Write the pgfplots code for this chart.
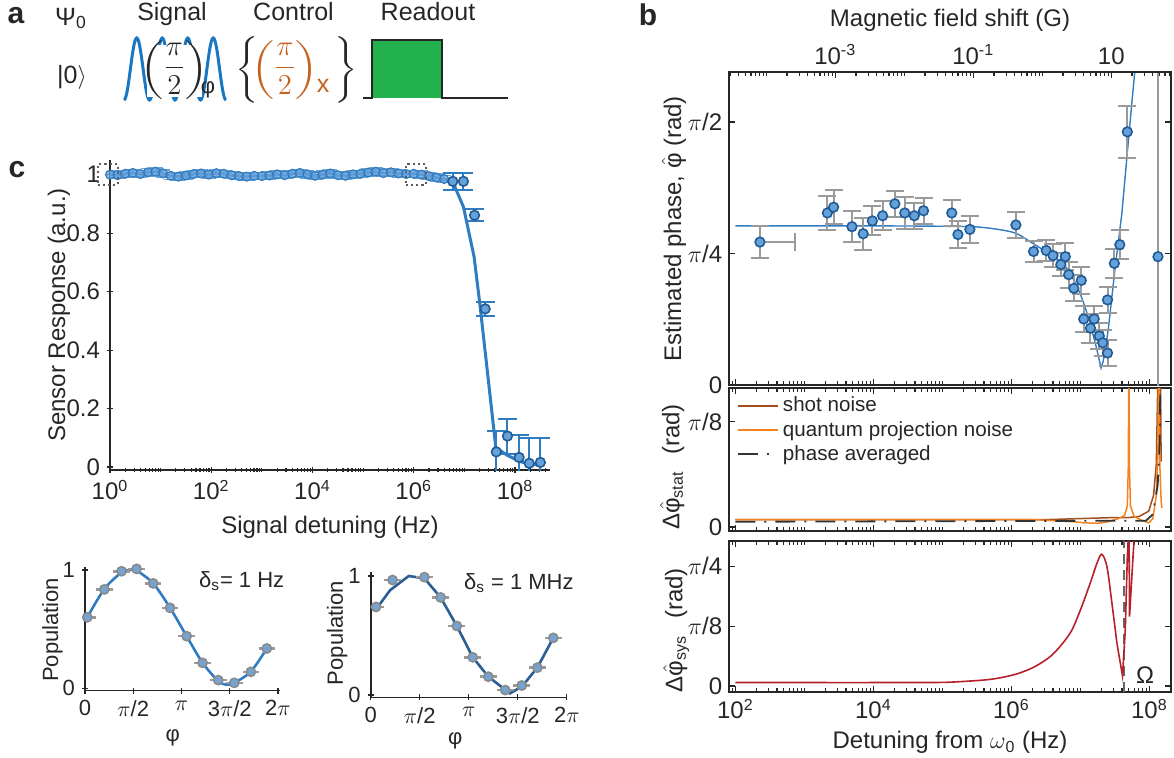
\documentclass[border=0pt]{standalone}
\usepackage{pgfplots}
\pgfplotsset{compat=1.18}
\usepackage{pgfplotstable}
\usepackage{amsmath}
\usepackage{graphicx}
\usepackage{fontspec}
\setmainfont{Liberation Sans}
\setsansfont{Liberation Sans}

\definecolor{txt}{HTML}{262626}
\definecolor{mfill}{HTML}{67A1D9}
\definecolor{medge}{HTML}{1F5B96}
\definecolor{cblue}{HTML}{2F7CC2}
\definecolor{dblue}{HTML}{2A5E94}
\definecolor{ebgray}{HTML}{9A9A9A}
\definecolor{shot}{HTML}{A24F1E}
\definecolor{qpn}{HTML}{F58220}
\definecolor{avg}{HTML}{333333}
\definecolor{sysred}{HTML}{B5202B}
\definecolor{rdgreen}{HTML}{22B14C}
\definecolor{ctrl}{HTML}{C5611E}
\definecolor{sigblue}{HTML}{1A78C2}
\definecolor{pfill}{HTML}{76A3D1}
\definecolor{pedge}{HTML}{8A8A8A}

\pgfplotsset{
  pnl/.style={
    scale only axis, anchor=north west, clip mode=individual,
    axis line style={line width=0.8pt, draw=txt, -},
    tick style={line width=0.6pt, draw=txt},
    tick align=inside,
    major tick length=3pt, minor tick length=1.8pt,
    tick label style={font=\fontsize{12}{14}\selectfont, text=txt},
    label style={font=\fontsize{12}{14}\selectfont, text=txt},
  },
  noarrows/.style={
    every outer x axis line/.append style={-},
    every outer y axis line/.append style={-},
    every inner x axis line/.append style={-},
    every inner y axis line/.append style={-},
    x axis line style={-}, y axis line style={-},
  },
  % MATLAB-like minor ticks for the detuning axes
  detminor/.style={minor xtick={2e0,3e0,4e0,5e0,6e0,7e0,8e0,9e0,1e1,
    2e1,3e1,4e1,5e1,6e1,7e1,8e1,9e1,
    2e2,3e2,4e2,5e2,6e2,7e2,8e2,9e2,1e3,
    2e3,3e3,4e3,5e3,6e3,7e3,8e3,9e3,
    2e4,3e4,4e4,5e4,6e4,7e4,8e4,9e4,1e5,
    2e5,3e5,4e5,5e5,6e5,7e5,8e5,9e5,
    2e6,3e6,4e6,5e6,6e6,7e6,8e6,9e6,1e7,
    2e7,3e7,4e7,5e7,6e7,7e7,8e7,9e7,
    2e8,3e8,4e8}},
  fieldminor/.style={minor xtick={3e-5,4e-5,5e-5,6e-5,7e-5,8e-5,9e-5,1e-4,
    2e-4,3e-4,4e-4,5e-4,6e-4,7e-4,8e-4,9e-4,
    2e-3,3e-3,4e-3,5e-3,6e-3,7e-3,8e-3,9e-3,1e-2,
    2e-2,3e-2,4e-2,5e-2,6e-2,7e-2,8e-2,9e-2,
    2e-1,3e-1,4e-1,5e-1,6e-1,7e-1,8e-1,9e-1,1,
    2,3,4,5,6,7,8,9,20,30,40,50,60,70}},
  bmark/.style={only marks, mark=*, mark size=2.4pt,
    mark options={fill=mfill, draw=medge, line width=0.8pt}},
}

% ---- panel c, main: sensor response (lx = log10 of detuning)
\pgfplotstableread{
lx y
0.00 1.000
0.15 0.998
0.30 1.003
0.45 1.006
0.60 1.002
0.75 1.008
0.90 1.010
1.05 1.004
1.20 0.996
1.35 0.993
1.50 0.997
1.65 1.002
1.80 1.004
1.95 1.000
2.10 1.005
2.25 1.003
2.40 0.998
2.55 0.995
2.70 0.993
2.85 0.996
3.00 0.995
3.15 0.997
3.30 1.001
3.45 0.998
3.60 1.003
3.75 1.006
3.90 1.001
4.05 0.996
4.20 1.000
4.35 1.004
4.50 0.998
4.65 0.996
4.80 1.001
4.95 1.003
5.10 1.007
5.25 1.010
5.40 1.005
5.55 1.008
5.70 1.004
5.85 1.002
6.00 1.003
6.15 1.000
6.30 0.995
6.45 0.990
6.60 0.985
}\cdense

\pgfplotstableread{
lx y e
6.77 0.977 0.030
6.98 0.977 0.030
7.20 0.861 0.020
7.41 0.541 0.024
7.63 0.052 0.070
7.85 0.106 0.060
8.08 0.033 0.077
8.28 0.013 0.087
8.50 0.016 0.084
}\ctail

\pgfplotstableread{
lx y
6.60 0.985
6.77 0.975
6.98 0.890
7.19 0.720
7.31 0.550
7.58 0.130
7.63 0.050
7.72 0.055
7.85 0.040
8.08 0.020
8.28 0.010
8.50 0.007
}\cfit

% ---- panel c, small: population vs phase
\pgfplotstableread{
x y
0.075 0.600
0.63 0.836
1.19 0.990
1.68 1.010
2.22 0.887
2.77 0.680
3.31 0.440
3.83 0.214
4.34 0.068
4.86 0.045
5.40 0.138
5.92 0.336
}\popA

\pgfplotstableread{
x y
0.075 0.60
0.63 0.84
1.19 0.98
1.45 1.00
1.68 0.995
2.22 0.887
2.77 0.68
3.31 0.44
3.83 0.214
4.34 0.06
4.60 0.03
4.86 0.045
5.40 0.14
5.92 0.336
}\fitA

\pgfplotstableread{
x y
0.17 0.740
0.70 0.966
1.72 0.990
2.24 0.820
2.76 0.580
3.27 0.317
3.77 0.154
4.31 0.042
4.84 0.080
5.34 0.230
5.85 0.480
}\popB

\pgfplotstableread{
x y
0.17 0.72
0.62 0.88
1.22 1.00
1.72 0.98
2.24 0.82
2.76 0.58
3.27 0.317
3.77 0.154
4.46 0.014
4.84 0.07
5.34 0.23
5.85 0.48
}\fitB

% ---- panel b, top: estimated phase in units of pi/4
\pgfplotstableread{
lx v e
3.333 1.308 0.13
3.423 1.352 0.13
3.689 1.204 0.12
3.852 1.150 0.12
3.985 1.248 0.11
4.133 1.287 0.11
4.311 1.378 0.10
4.454 1.308 0.12
4.593 1.287 0.10
4.726 1.325 0.10
5.135 1.308 0.10
5.225 1.144 0.10
5.398 1.183 0.10
6.065 1.217 0.10
6.321 1.015 0.08
6.504 1.023 0.08
6.603 0.984 0.09
6.781 0.976 0.10
6.716 0.916 0.09
6.830 0.839 0.10
7.013 0.795 0.10
6.905 0.735 0.10
7.048 0.502 0.10
7.146 0.432 0.11
7.200 0.502 0.10
7.274 0.373 0.10
7.324 0.321 0.10
7.393 0.243 0.10
7.393 0.647 0.10
7.492 0.925 0.11
7.571 1.067 0.11
7.680 1.925 0.20
}\bphase

% fit, smooth part and the sharp dip
\pgfplotstableread{
lx v
2.00 1.21
3.00 1.21
4.00 1.21
5.00 1.207
5.55 1.20
6.03 1.16
6.27 1.09
6.51 1.01
6.755 0.92
6.95 0.75
7.094 0.55
7.215 0.32
7.26 0.22
}\bfitA
\pgfplotstableread{
lx v
7.26 0.22
7.30 0.13
7.33 0.18
7.37 0.30
7.41 0.45
7.505 0.90
7.60 1.30
7.67 1.71
7.75 2.17
7.80 2.45
}\bfitB

% ---- panel b, middle: statistical error in units of pi/8
\pgfplotstableread{
lx v
2.00 0.07
6.50 0.07
7.00 0.08
7.50 0.09
7.70 0.09
7.85 0.10
7.99 0.15
8.06 0.30
8.10 0.60
8.125 1.50
8.16 1.50
8.17 0.62
}\shotn

\pgfplotstableread{
lx v
2.00 0.07
6.30 0.07
6.60 0.06
6.90 0.05
7.05 0.04
7.25 0.035
7.40 0.05
7.55 0.08
7.64 0.11
7.68 0.20
7.695 0.60
7.70 1.50
7.705 1.50
7.71 0.60
7.725 0.20
7.78 0.10
7.90 0.06
7.99 0.04
8.05 0.08
8.10 0.30
8.125 0.80
8.133 1.50
8.14 1.50
8.15 0.60
8.17 0.25
8.18 0.18
}\qpnn

\pgfplotstableread{
lx v
2.00 0.05
7.95 0.06
8.05 0.12
8.12 0.40
8.15 0.80
8.16 1.50
}\avgn

% ---- panel b, bottom: systematic error in units of pi/8
\pgfplotstableread{
lx v
2.00 0.058
3.00 0.058
4.00 0.058
4.50 0.059
5.06 0.062
5.60 0.10
5.85 0.14
6.10 0.21
6.35 0.33
6.60 0.53
6.85 0.88
7.00 1.27
7.14 1.71
7.24 2.05
7.31 2.20
7.385 1.99
7.457 1.38
7.53 0.71
}\sysA
\pgfplotstableread{
lx v
7.53 0.71
7.61 0.17
7.65 0.93
7.68 2.15
7.70 2.60
7.705 2.60
7.712 1.16
7.785 2.60
}\sysB

\begin{document}
\begin{tikzpicture}[font=\fontsize{12}{14}\selectfont, text=txt]
\useasboundingbox (0,0) rectangle (587pt,-378.5pt);

% ================= panel c, main
\begin{axis}[pnl, xmode=log, detminor,
  at={(55pt,-80pt)}, width=220pt, height=155pt,
  axis lines=left, noarrows,
  xmin=1, xmax=4.9e8, ymin=-0.01, ymax=1.05,
  xtick={1,1e2,1e4,1e6,1e8},
  xticklabels={10\textsuperscript{0},10\textsuperscript{2},10\textsuperscript{4},10\textsuperscript{6},10\textsuperscript{8}},
  ytick={0,0.2,0.4,0.6,0.8,1},
  yticklabels={0,0.2,0.4,0.6,0.8,1},
  xlabel={Signal detuning (Hz)},
  ylabel={Sensor Response (a.u.)},
  xlabel style={at={(axis description cs:0.5,-0.206)}, anchor=base},
  ylabel style={at={(axis description cs:-0.102,0.5)}, anchor=base},
]
\addplot[cblue, line width=1.5pt] table[x expr=10^\thisrow{lx}, y=y] {\cdense};
\addplot[cblue, line width=1.5pt] table[x expr=10^\thisrow{lx}, y=y] {\cfit};
\addplot[only marks, mark=*, mark size=2.2pt,
  mark options={fill=mfill, draw=cblue, fill opacity=0.75, line width=0.6pt},
  error bars/.cd, y dir=both, y fixed=0.012,
  error bar style={cblue!70, line width=0.7pt},
  error mark options={rotate=90, cblue!70, line width=0.7pt, mark size=3.5pt}]
  table[x expr=10^\thisrow{lx}, y=y] {\cdense};
\addplot[only marks, mark=*, mark size=2.4pt,
  mark options={fill=mfill, draw=medge, line width=0.8pt},
  error bars/.cd, y dir=both, y explicit,
  error bar style={cblue, line width=1pt},
  error mark options={rotate=90, cblue, line width=1pt, mark size=4.8pt}]
  table[x expr=10^\thisrow{lx}, y=y, y error=e] {\ctail};
\node[draw=txt!75, dash pattern=on 1.1pt off 1.5pt, line width=1.1pt,
  minimum width=10pt, minimum height=10.5pt, inner sep=0pt] at (axis cs:0.9,1.0) {};
\node[draw=txt!75, dash pattern=on 1.1pt off 1.5pt, line width=1.1pt,
  minimum width=10pt, minimum height=10.5pt, inner sep=0pt] at (axis cs:1.1e6,1.0) {};
\end{axis}

% ================= panel c, small left (1 Hz)
\begin{axis}[pnl,
  at={(42.5pt,-283.25pt)}, width=97.5pt, height=62pt,
  axis lines=left, noarrows,
  xmin=0, xmax=6.35, ymin=-0.02, ymax=1.03,
  xtick={0,1.5708,3.1416,4.7124,6.2832},
  xticklabels={0,$\pi$/2,$\pi$,3$\pi$/2,2$\pi$},
  ytick={0,1}, yticklabels={0,1},
  tick label style={font=\fontsize{11}{13}\selectfont},
  label style={font=\fontsize{11}{13}\selectfont},
  xlabel={φ}, ylabel={Population},
  xlabel style={at={(axis description cs:0.45,-0.384)}, anchor=center},
  ylabel style={at={(axis description cs:-0.138,0.49)}, anchor=base},
]
\addplot[cblue, line width=1.3pt, smooth] table {\fitA};
\addplot[only marks, mark=*, mark size=2.3pt,
  mark options={fill=pfill, draw=pedge, line width=0.8pt},
  error bars/.cd, x dir=both, x fixed=0.27, error mark=none,
  error bar style={ebgray, line width=1.3pt}] table {\popA};
\end{axis}

% ================= panel c, small right (1 MHz)
\begin{axis}[pnl,
  at={(185.35pt,-286.2pt)}, width=98.3pt, height=62.5pt,
  axis lines=left, noarrows,
  xmin=0, xmax=6.3, ymin=-0.02, ymax=1.03,
  xtick={0,1.5708,3.1416,4.7124,6.2832},
  xticklabels={0,$\pi$/2,$\pi$,3$\pi$/2,2$\pi$},
  ytick={0,1}, yticklabels={0,1},
  tick label style={font=\fontsize{11}{13}\selectfont},
  label style={font=\fontsize{11}{13}\selectfont},
  xlabel={φ}, ylabel={Population},
  xlabel style={at={(axis description cs:0.43,-0.346)}, anchor=center},
  ylabel style={at={(axis description cs:-0.141,0.515)}, anchor=base},
]
\addplot[dblue, line width=1.3pt] table {\fitB};
\addplot[only marks, mark=*, mark size=2.3pt,
  mark options={fill=pfill, draw=pedge, line width=0.8pt},
  error bars/.cd, x dir=both, x fixed=0.27, error mark=none,
  error bar style={ebgray, line width=1.3pt}] table {\popB};
\end{axis}

% ================= panel b, top
\begin{axis}[pnl, xmode=log, detminor,
  at={(364.6pt,-36pt)}, width=220.8pt, height=156.5pt,
  xmin=81.28, xmax=2.042e8, ymin=0, ymax=2.38,
  xtick={1e2,1e4,1e6,1e8}, xticklabels={}, xtick pos=left,
  ytick={0,1,2}, yticklabels={0,$\pi$/4,$\pi$/2},
  ylabel={Estimated phase, $\hat{\text{φ}}$ (rad)},
  ylabel style={at={(axis description cs:-0.109,0.5)}, anchor=base},
]
\addplot[cblue, line width=0.7pt, smooth] table[x expr=10^\thisrow{lx}, y=v] {\bfitA};
\addplot[cblue, line width=0.7pt] table[x expr=10^\thisrow{lx}, y=v] {\bfitB};
\addplot[bmark,
  error bars/.cd, y dir=both, y explicit,
  error bar style={ebgray, line width=1pt},
  error mark options={rotate=90, ebgray, line width=1pt, mark size=4.5pt}]
  table[x expr=10^\thisrow{lx}, y=v, y error=e] {\bphase};
% first point, with its one-sided detuning error
\addplot[bmark,
  error bars/.cd, y dir=both, y fixed=0.12, x dir=plus, x fixed=504.6,
  error bar style={ebgray, line width=1pt},
  error mark options={rotate=90, ebgray, line width=1pt, mark size=4.5pt}]
  coordinates {(226.5,1.087)};
% last point, error spans the whole range
\addplot[bmark,
  error bars/.cd, y dir=both, y fixed=3,
  error bar style={ebgray, line width=1pt}, error mark=none]
  coordinates {(1.33e8,0.976)};
\end{axis}
\begin{axis}[pnl, xmode=log, fieldminor,
  at={(364.6pt,-36pt)}, width=220.8pt, height=156.5pt,
  xmin=2.903e-5, xmax=72.93, ymin=0, ymax=1,
  axis x line*=top, axis y line=none, noarrows,
  xtick={1e-3,1e-1,10},
  xticklabels={10\textsuperscript{-3},10\textsuperscript{-1},10},
  xlabel={Magnetic field shift (G)},
  xlabel style={at={(axis description cs:0.5,1.144)}, anchor=base},
]
\end{axis}

% ================= panel b, middle
\begin{axis}[pnl, xmode=log, detminor,
  at={(364.6pt,-194pt)}, width=220.8pt, height=71.5pt,
  xmin=81.28, xmax=2.042e8, ymin=-0.038, ymax=1.319,
  xtick={1e2,1e4,1e6,1e8}, xticklabels={},
  ytick={0,1}, yticklabels={0,$\pi$/8},
  ylabel={Δ$\hat{\text{φ}}$\textsubscript{stat}\hspace{0.7em}(rad)},
  ylabel style={at={(axis description cs:-0.113,0.448)}, anchor=base},
  legend style={at={(axis description cs:0.018,0.965)}, anchor=north west,
    draw=none, fill=none, font=\fontsize{10.3}{12}\selectfont, text=txt,
    row sep=-0.5pt, inner sep=0pt, nodes={inner sep=1.8pt}},
  legend cell align=left,
  legend image code/.code={\draw[#1] (0pt,0pt) -- (20pt,0pt);},
]
\addplot[shot, line width=0.75pt] table[x expr=10^\thisrow{lx}, y=v] {\shotn};
\addlegendentry{shot noise}
\addplot[qpn, line width=0.75pt] table[x expr=10^\thisrow{lx}, y=v] {\qpnn};
\addlegendentry{quantum projection noise}
\addplot[avg, line width=0.9pt, dash pattern=on 10pt off 4.5pt on 1pt off 4.5pt]
  table[x expr=10^\thisrow{lx}, y=v] {\avgn};
\addlegendentry{phase averaged}
\end{axis}

% ================= panel b, bottom
\begin{axis}[pnl, xmode=log, detminor,
  at={(364.6pt,-270.5pt)}, width=220.8pt, height=75.5pt,
  xmin=81.28, xmax=2.042e8, ymin=-0.1, ymax=2.42,
  xtick={1e2,1e4,1e6,1e8},
  xticklabels={10\textsuperscript{2},10\textsuperscript{4},10\textsuperscript{6},10\textsuperscript{8}},
  ytick={0,1,2}, yticklabels={0,$\pi$/8,$\pi$/4},
  xlabel={Detuning from $\omega$\textsubscript{0} (Hz)},
  ylabel={Δ$\hat{\text{φ}}$\textsubscript{sys}\hspace{0.7em}(rad)},
  xlabel style={at={(axis description cs:0.5,-0.377)}, anchor=base},
  ylabel style={at={(axis description cs:-0.106,0.41)}, anchor=base},
]
\addplot[txt!70, line width=1pt, dash pattern=on 5pt off 3pt]
  coordinates {(4.22e7,-0.1) (4.22e7,2.42)};
\addplot[sysred, line width=0.8pt, smooth] table[x expr=10^\thisrow{lx}, y=v] {\sysA};
\addplot[sysred, line width=0.8pt] table[x expr=10^\thisrow{lx}, y=v] {\sysB};
\end{axis}

% ================= panel a and lettering (pixel coordinates)
\begin{scope}[x=0.5pt, y=-0.5pt]
\node[font=\fontsize{15}{17}\selectfont\bfseries] at (16,16) {a};
\node[font=\fontsize{15}{17}\selectfont\bfseries] at (648,15) {b};
\node[font=\fontsize{15}{17}\selectfont\bfseries] at (17,170) {c};

\node[anchor=base, inner sep=1pt, font=\fontsize{12.5}{15}\selectfont] at (71,25) {Ψ\textsubscript{0}};
\node[anchor=base, inner sep=1pt, font=\fontsize{12.5}{15}\selectfont] at (72,83) {|0$\rangle$};
\node[anchor=base, inner sep=1pt, font=\fontsize{12.5}{15}\selectfont] at (172,20) {Signal};
\node[anchor=base, inner sep=1pt, font=\fontsize{12.5}{15}\selectfont] at (293.5,20) {Control};
\node[anchor=base, inner sep=1pt, font=\fontsize{12.5}{15}\selectfont] at (428,20) {Readout};

\draw[sigblue, line width=1.5pt] (124,100) cos (130.4,69) sin (136.75,38) cos (143.1,69)
  sin (149.5,100) cos (155.9,69) sin (162.25,38) cos (168.6,69)
  sin (175,100) cos (181.4,69) sin (187.75,38) cos (194.1,69)
  sin (200.5,100) cos (206.9,69) sin (213.25,38) cos (219.6,69) sin (226,100);
% the pulse label hides the middle of the wave, its crests stay visible
\fill[white] (147,45) rectangle (202,97);
\node[inner sep=0pt] at (174.5,70)
  {\fontsize{14}{16}\selectfont\scalebox{1}[0.68]{$\Bigg($}$\dfrac{\pi}{2}$\scalebox{1}[0.68]{$\Bigg)$}};
\node[inner sep=0pt, font=\fontsize{11}{13}\selectfont] at (208,90) {φ};

\node[inner sep=0pt] at (247,70) {\fontsize{15.5}{18}\selectfont\scalebox{1}[0.77]{$\Bigg\{$}};
\node[inner sep=0pt] at (346,70) {\fontsize{15.5}{18}\selectfont\scalebox{1}[0.77]{$\Bigg\}$}};
\node[inner sep=0pt, text=ctrl] at (285,70)
  {\fontsize{14}{16}\selectfont\scalebox{1}[0.68]{$\Bigg($}$\dfrac{\pi}{2}$\scalebox{1}[0.68]{$\Bigg)$}};
\node[inner sep=0pt, text=ctrl, font=\fontsize{12.5}{15}\selectfont] at (323,86) {x};

\fill[rdgreen] (372,40) rectangle (442,98);
\draw[txt, line width=1pt] (363,98) -- (372,98) -- (372,40) -- (442,40) -- (442,98) -- (508,98);

\node[anchor=base west, font=\fontsize{11}{13}\selectfont] at (192,587) {δ\textsubscript{s}= 1 Hz};
\node[anchor=base west, font=\fontsize{11}{13}\selectfont] at (457,589) {δ\textsubscript{s} = 1 MHz};
\node[anchor=base, font=\fontsize{12}{14}\selectfont] at (1145,683) {Ω};
\end{scope}
\end{tikzpicture}
\end{document}
